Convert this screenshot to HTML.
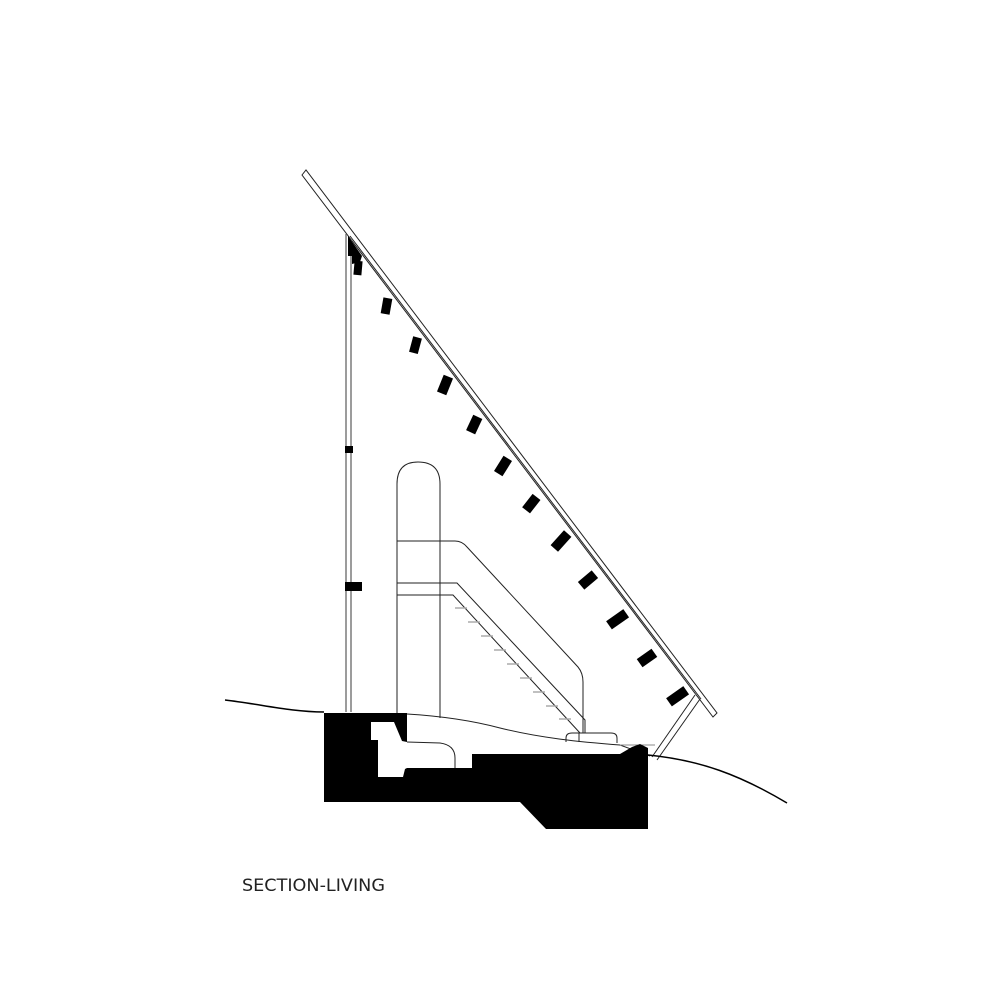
<!DOCTYPE html>
<html><head><meta charset="utf-8"><style>html,body{margin:0;padding:0;background:#fff}svg{display:block}</style></head>
<body>
<svg width="1000" height="1000" viewBox="0 0 1000 1000" xmlns="http://www.w3.org/2000/svg">
<rect width="1000" height="1000" fill="#fff"/>
<g fill="none" stroke="#222" stroke-width="1">
<!-- roof -->
<polygon points="302,175 306,170 717,713 713,717" fill="#fff"/>
<line x1="350" y1="236" x2="701" y2="699"/>
<!-- wall -->
<line x1="346" y1="234" x2="346" y2="712" stroke="#666" stroke-width="1.3"/>
<line x1="351" y1="240" x2="351" y2="712" stroke="#666" stroke-width="1.3"/>
<!-- pillar -->
<path d="M397,718 L397,484 Q397,462 418,462 Q440,462 440,484 L440,718"/>
<!-- upper rail -->
<path d="M397,541 L455,541 Q462,541 467,547 L578,667 Q583,673 583,682 L583,733"/>
<!-- lower rail band -->
<path d="M397,583 L457,583 L585,720 L585,733"/>
<path d="M397,595 L453,595 L580,733"/>
<!-- strut -->
<line x1="695" y1="695" x2="652" y2="757"/>
<line x1="700" y1="699" x2="657" y2="760"/>
<!-- bench -->
<path d="M566,742 L566,738 Q566,733 572,733 L611,733 Q617,733 617,738 L617,743"/>
<line x1="579" y1="733" x2="579" y2="742"/>
<!-- interior floor -->
<path d="M407,714 C440,716 470,720 500,728 C540,738 580,742 620,745 L650,756"/>
<line x1="620" y1="745" x2="655" y2="745" stroke="#888"/>
<path d="M407,742 L440,743 Q455,745 455,758 L455,768"/>
<!-- ground -->
<path d="M225,700 C260,704 290,712 324,712" stroke="#000" stroke-width="1.5"/>
<path d="M648,755 C700,760 740,775 787,803" stroke="#000" stroke-width="1.5"/>
</g>
<g stroke="#aaa" stroke-width="1.5">
<line x1="455" y1="608" x2="467" y2="608"/><line x1="468" y1="622" x2="480" y2="622"/>
<line x1="481" y1="636" x2="493" y2="636"/><line x1="494" y1="650" x2="506" y2="650"/>
<line x1="507" y1="664" x2="519" y2="664"/><line x1="520" y1="678" x2="532" y2="678"/>
<line x1="533" y1="692" x2="545" y2="692"/><line x1="546" y1="706" x2="558" y2="706"/>
<line x1="559" y1="719" x2="571" y2="719"/>
</g>
<!-- wall blocks -->
<rect x="345" y="446" width="8" height="7" fill="#000"/>
<rect x="345" y="582" width="17" height="9" fill="#000"/>
<!-- top wall wedge -->
<polygon points="348,236 362,256 360,262 352,264 352,256 348,256" fill="#000"/>
<!-- slats -->
<g fill="#000">
<rect x="-4" y="-7" width="8" height="14" transform="translate(358,268) rotate(5)"/>
<rect x="-4" y="-8" width="9" height="16" transform="translate(386,306) rotate(10)"/>
<rect x="-4" y="-8" width="9" height="16" transform="translate(415,345) rotate(15)"/>
<rect x="-5" y="-9" width="10" height="18" transform="translate(445,385) rotate(22)"/>
<rect x="-5" y="-9" width="10" height="17" transform="translate(474,425) rotate(25)"/>
<rect x="-5" y="-9" width="10" height="18" transform="translate(503,466) rotate(32)"/>
<rect x="-5" y="-9" width="10" height="17" transform="translate(531,504) rotate(38)"/>
<rect x="-5" y="-10" width="10" height="20" transform="translate(561,541) rotate(42)"/>
<rect x="-5" y="-9" width="10" height="18" transform="translate(588,580) rotate(50)"/>
<rect x="-5" y="-10" width="10" height="21" transform="translate(618,619) rotate(55)"/>
<rect x="-5" y="-9" width="10" height="18" transform="translate(647,658) rotate(55)"/>
<rect x="-5" y="-10" width="10" height="21" transform="translate(678,696) rotate(55)"/>
</g>
<!-- base -->
<polygon points="324,713 407,713 407,768 472,768 472,754 620,754 632,747 640,744 648,748 648,829 546,829 520,802 324,802" fill="#000"/>
<polygon points="371,722 394,722 402,741 407,742 407,768 405,769 403,777 378,777 378,740 371,740" fill="#fff"/>
<text x="242" y="891" font-family="DejaVu Sans, sans-serif" font-size="17" fill="#222" textLength="143" lengthAdjust="spacingAndGlyphs">SECTION-LIVING</text>
</svg>
</body></html>
